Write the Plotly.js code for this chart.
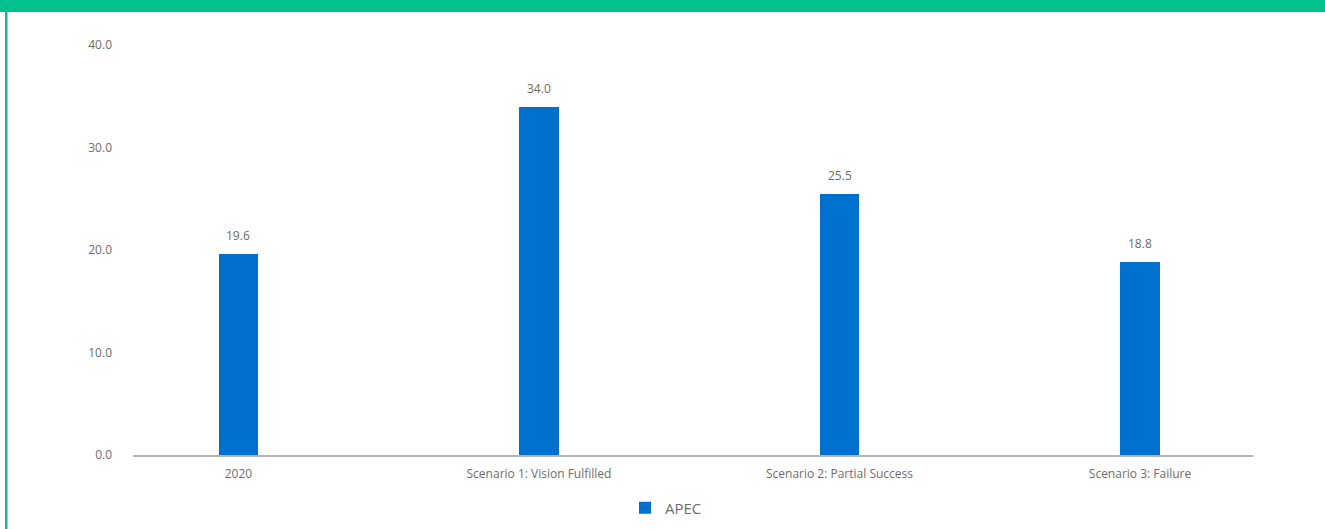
<!DOCTYPE html>
<html>
<head>
<meta charset="utf-8">
<script src="https://cdn.plot.ly/plotly-3.0.1.min.js"></script>
<style>
html,body{margin:0;padding:0;background:#fff;}
#chart{width:1325px;height:529px;}
</style>
</head>
<body>
<div id="chart"></div>
<script>
const categories = ["2020", "Scenario 1: Vision Fulfilled", "Scenario 2: Partial Success", "Scenario 3: Failure"];
const apecValues = [19.6, 34.0, 25.5, 18.8];
const seriesName = "APEC";
const yTickVals = [0, 10, 20, 30, 40];

const W = 1325, H = 529;
const L = 133, R = 72, T = 45, B = 74;
const pw = W - L - R, ph = H - T - B;
const px = x => (x - L) / pw;
const py = y => (H - B - y) / ph;

const labelColor = "#6d6d6d";
const font = "'Open Sans', 'Noto Sans', sans-serif";

const trace = {
  type: "bar",
  x: categories,
  y: apecValues,
  name: seriesName,
  width: 0.13,
  marker: {color: "#0070CF"},
  hoverinfo: "x+y"
};

const annotations = categories.map((c, i) => ({
  x: i, y: apecValues[i], xref: "x", yref: "y",
  text: apecValues[i].toFixed(1), showarrow: false,
  yanchor: "bottom", yshift: 8,
  font: {family: font, size: 12, color: labelColor}
}));

const green = "#00C18D";
const shapes = [
  {type: "rect", xref: "paper", yref: "paper", x0: px(-5), x1: px(W + 5), y0: py(12), y1: py(-5),
   fillcolor: green, line: {width: 0}, layer: "above"},
  {type: "rect", xref: "paper", yref: "paper", x0: px(5), x1: px(7.5), y0: py(H + 5), y1: py(-5),
   fillcolor: green, line: {width: 0}, layer: "above"}
];

const layout = {
  width: W, height: H,
  margin: {l: L, r: R, t: T, b: B, autoexpand: false},
  paper_bgcolor: "#fff", plot_bgcolor: "#fff",
  font: {family: font, color: labelColor, size: 12},
  showlegend: true,
  legend: {orientation: "h", x: px(666), xanchor: "center", y: py(508), yanchor: "middle",
           font: {family: font, size: 15, color: labelColor}},
  xaxis: {type: "category", range: [-0.351, 3.376], showline: true, linecolor: "#b3b3b3", linewidth: 2,
          showgrid: false, zeroline: false, ticks: "", tickfont: {family: font, size: 12, color: labelColor},
          ticklabelstandoff: 7, automargin: false},
  yaxis: {range: [0, 40], tickvals: yTickVals, tickformat: ".1f", showgrid: false, zeroline: false,
          showline: false, ticks: "", tickfont: {family: font, size: 12, color: labelColor},
          ticklabelstandoff: 20, automargin: false},
  annotations: annotations,
  shapes: shapes,
  bargap: 0
};

Plotly.newPlot("chart", [trace], layout, {displayModeBar: false, responsive: false});
</script>
</body>
</html>
